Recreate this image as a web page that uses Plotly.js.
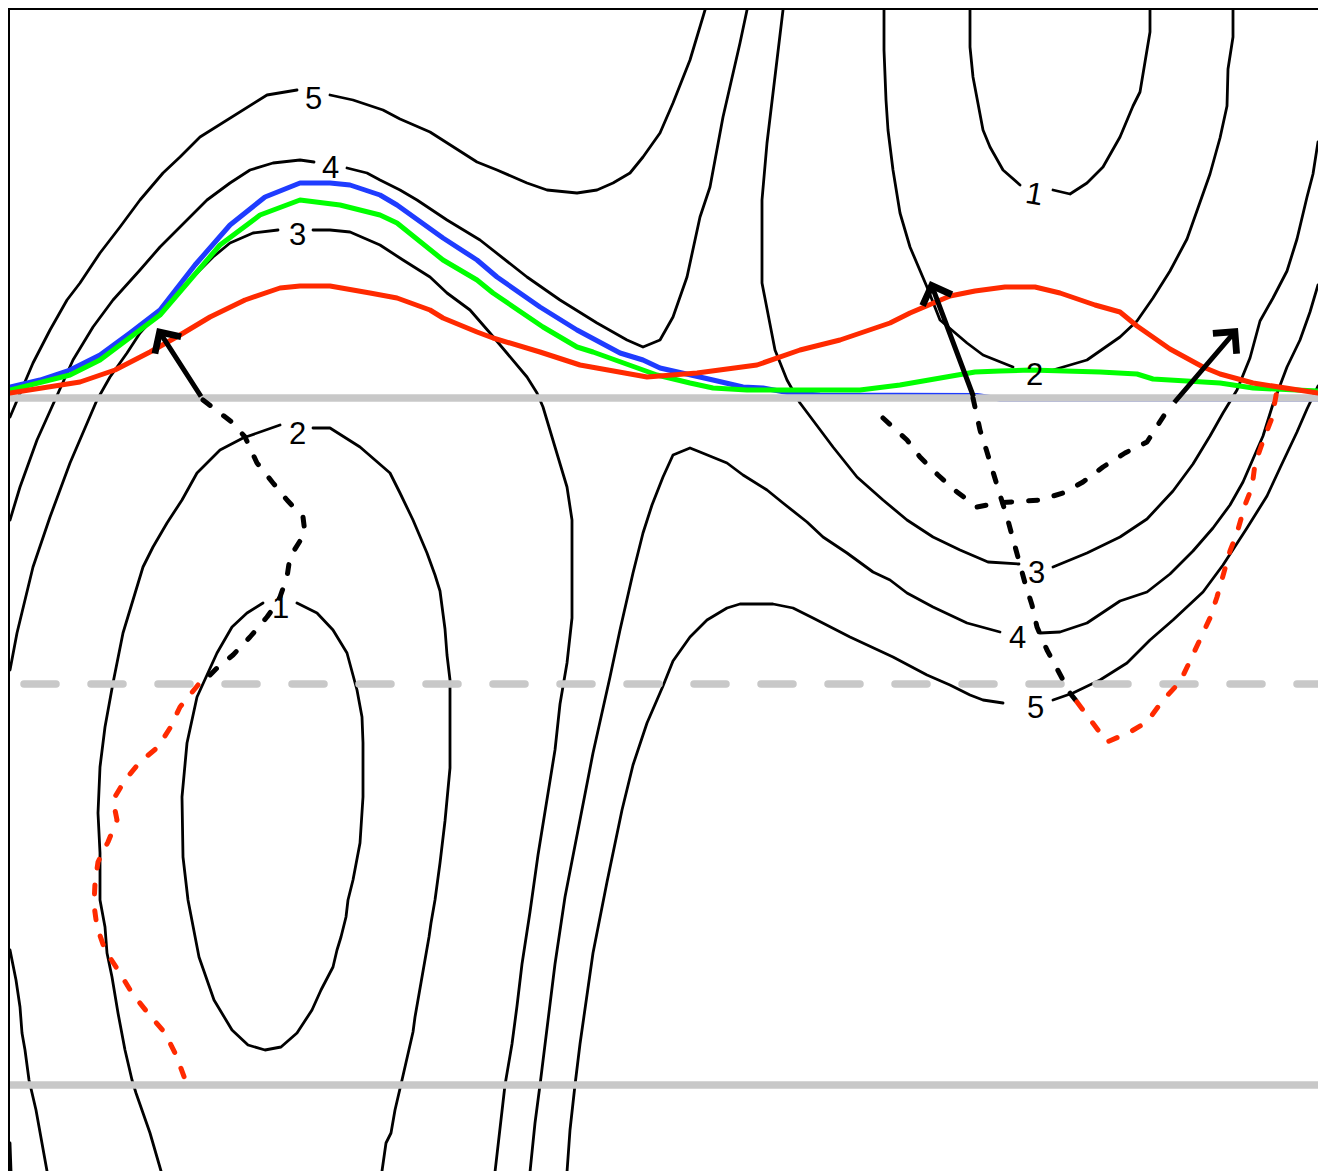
<!DOCTYPE html>
<html>
<head>
<meta charset="utf-8">
<script src="https://cdn.plot.ly/plotly-3.0.1.min.js"></script>
<style>
html,body{margin:0;padding:0;background:#fff;}
#chart{width:1318px;height:1171px;}
.js-line{stroke-linecap:round;stroke-linejoin:round;}
</style>
</head>
<body>
<div id="chart"></div>
<script>
// ---------- contour lines (level 5) ----------
const c5UpperA_x = [10,20,33,50,67,80,100,120,140,163,180,200,227,247,267,297];
const c5UpperA_y = [417,393,363,330,300,283,253,227,200,173,157,137,120,107,95,90];
const c5UpperB_x = [330,353,383,400,430,447,477,497,527,547,577,597,613,630,643,660,673,690,700,705];
const c5UpperB_y = [95,100,110,119,132,143,162,170,183,190,193,190,183,173,157,133,103,60,27,10];
const c5LowerA_x = [567,570,575,580,587,593,607,622,633,647,663,673,690,707,727,740,773,793,813,850,893,927,950,970,983,1003];
const c5LowerA_y = [1172,1130,1085,1044,995,953,882,810,765,723,686,661,637,620,608,604,604,608,618,637,657,675,685,695,700,703];
const c5LowerB_x = [1053,1073,1100,1127,1150,1173,1203,1223,1247,1267,1280,1297,1307,1318];
const c5LowerB_y = [700,693,680,663,640,620,592,565,528,496,468,432,409,386];
// ---------- level 4 ----------
const c4UpperA_x = [10,20,37,55,73,93,113,140,160,187,207,230,250,273,300,314];
const c4UpperA_y = [520,487,440,400,360,327,300,270,247,220,200,183,170,163,160,162];
const c4UpperB_x = [347,367,380,400,417,447,480,527,560,597,627,643,660,673,687,700,710,723,740,747];
const c4UpperB_y = [168,173,180,190,200,220,240,277,300,323,340,347,340,317,277,217,187,117,43,10];
const c4LowerA_x = [530,535,540,550,555,565,577,593,610,620,633,643,652,663,673,690,700,727,743,767,783,807,823,847,873,890,907,933,967,1000];
const c4LowerA_y = [1172,1123,1085,1006,964,897,836,753,677,630,573,533,505,477,455,448,452,463,475,490,503,522,537,553,572,580,593,607,623,632];
const c4LowerB_x = [1040,1060,1087,1120,1147,1170,1193,1213,1230,1243,1253,1263,1273,1287,1300,1310,1318];
const c4LowerB_y = [633,632,623,601,592,574,551,528,505,482,459,436,404,367,340,312,285];
const c4Corner_x = [10,11];
const c4Corner_y = [1143,1171];
// ---------- level 3 ----------
const c3LeftA_x = [10,17,25,33,50,70,97,110,127,140,167,200,213,230,253,278];
const c3LeftA_y = [670,633,600,567,517,463,400,377,353,333,303,270,257,243,233,230];
const c3LeftB_x = [313,330,350,380,403,430,447,470,490,510,527,537,543,555,567,572,572,572,567,560,555,547,538,530,522,517,512,505,500,495];
const c3LeftB_y = [230,230,232,245,260,277,293,310,333,357,377,393,407,447,487,520,580,618,663,704,750,799,855,912,964,1006,1044,1085,1130,1172];
const c3Corner_x = [10,16,20,22,25,29,36,42,47];
const c3Corner_y = [950,980,1007,1033,1050,1080,1110,1143,1171];
const c3RightA_x = [783,777,767,762,762,775,787,800,813,833,857,883,907,933,960,988,1019];
const c3RightA_y = [10,60,143,200,283,350,380,403,420,447,477,500,520,537,550,562,564];
const c3RightB_x = [1053,1087,1120,1147,1173,1193,1210,1223,1237,1250,1260,1273,1287,1297,1307,1313,1318];
const c3RightB_y = [567,553,537,519,491,464,436,413,390,358,321,298,271,239,197,174,142];
// ---------- level 2 ----------
const c2LeftA_x = [280,243,220,197,182,167,153,143,133,123,113,105,100,98,100,100,105,107,112,118,125,132,136,143,150,161];
const c2LeftA_y = [425,438,450,473,500,523,547,567,600,633,683,727,767,813,853,900,927,953,977,1013,1050,1080,1093,1113,1133,1171];
const c2LeftB_x = [313,330,360,390,400,413,427,435,440,445,447,450,450,447,445,440,435,431,429,415,413,402,395,391,386,382];
const c2LeftB_y = [428,428,447,473,493,520,553,575,591,629,655,680,768,799,821,863,900,923,937,1017,1032,1080,1110,1133,1143,1171];
const c2RightA_x = [884,884,886,888,893,900,910,927,940,967,983,1013];
const c2RightA_y = [10,50,100,130,170,213,247,287,320,343,355,367];
const c2RightB_x = [1053,1087,1120,1137,1153,1170,1187,1200,1210,1220,1227,1228,1233,1233];
const c2RightB_y = [370,360,337,321,298,271,239,202,174,138,106,69,37,10];
// ---------- level 1 ----------
const c1Left_x = [263,247,232,217,197,187,182,183,188,199,214,232,248,265,281,297,312,321,333,337,341,346,348,353,360,363,363,362,357,347,333,317,297];
const c1Left_y = [603,613,627,653,697,743,797,857,900,957,1000,1030,1045,1050,1047,1033,1010,990,967,950,937,917,900,880,843,797,743,717,690,653,630,613,603];
const c1RightA_x = [970,970,973,983,990,1003,1020];
const c1RightA_y = [10,47,77,130,147,170,185];
const c1RightB_x = [1053,1070,1087,1103,1120,1133,1140,1145,1150,1150];
const c1RightB_y = [190,194,183,167,137,106,92,64,32,10];

// ---------- contour labels ----------
const labelText  = ['5','4','3','2','1','1','2','3','4','5'];
const labelX     = [313,330,297,297,280,1034,1034,1036,1017,1035];
const labelY     = [98,167,234,433,607,193,374,572,637,707];
const labelAngle = [0,0,0,0,0,10,0,0,0,0];

// ---------- coloured curves ----------
const blueX = [10,40,70,100,130,160,195,230,265,300,330,350,380,397,443,477,497,540,577,620,643,660,713,743,763,790,820,977,1000,1318];
const blueY = [387,380,370,355,333,310,265,225,197,183,183,185,195,205,238,260,277,307,330,353,360,368,380,387,388,393,395,395.5,399,399];
const greenX = [10,40,70,100,130,160,190,220,260,300,340,380,397,443,477,493,543,577,593,620,657,690,713,747,800,860,900,940,975,1000,1030,1100,1137,1153,1187,1220,1253,1287,1318];
const greenY = [390,383,375,360,338,315,280,245,215,200,205,215,223,260,280,293,327,347,352,362,375,383,388,390,390,390,385,378,372,371,370,372,374,379,381,383,388,390,391];
const redX = [10,50,80,115,150,180,210,245,280,300,330,370,397,430,443,477,493,540,580,647,697,757,800,840,870,890,910,930,950,975,1005,1035,1060,1095,1120,1137,1170,1203,1220,1253,1287,1318];
const redY = [393,387,382,370,352,335,317,300,288,286,286,293,298,310,318,332,338,352,365,377,373,365,350,340,330,323,313,305,296,291,287,287,293,305,312,326,349,367,374,383,388,393];

// ---------- reference levels (grey) ----------
const greySolidY = [398,1085];
const greyDashY = 684;

// ---------- dashed paths ----------
const blackPathLX = [203,233,245,257,273,287,303,305,290,287,280,277,267,250,233,217,205,198];
const blackPathLY = [400,423,437,463,483,500,517,533,557,577,597,603,617,637,655,668,680,685];
const redPathLX = [198,180,170,158,140,125,113,117,108,98,95,94,97,105,118,132,147,165,176,186];
const redPathLY = [685,707,728,747,762,780,800,820,842,862,883,905,927,950,970,993,1012,1033,1055,1082];
const blackPathUX = [883,907,920,938,957,977,997,1017,1040,1063,1083,1103,1125,1147,1160,1172];
const blackPathUY = [418,440,457,475,492,507,503,502,500,493,482,467,453,442,422,403];
const blackPathRX = [973,975,980,987,993,1000,1007,1013,1020,1025,1032,1037,1047,1060,1070,1077];
const blackPathRY = [398,408,430,452,473,495,517,540,563,583,605,627,650,673,693,702];
const redPathRX = [1077,1090,1107,1130,1147,1163,1180,1190,1200,1210,1217,1223,1230,1237,1245,1252,1255,1263,1272,1277];
const redPathRY = [702,720,742,732,722,700,682,661,638,618,597,574,551,533,505,487,464,441,418,390];

// ---------- arrows (tail -> tip) ----------
const arrowTailX = [202,974,1173];
const arrowTailY = [398,398,404];
const arrowTipX  = [157,930,1238];
const arrowTipY  = [328,281,328];

// ================= build =================
const BLACK = '#000000', GREY = '#c8c8c8', BLUE = '#1f3cff', GREEN = '#00ff00', RED = '#ff2a00';
function line(x, y, color, width, dash) {
  return {type:'scatter', mode:'lines', x:x, y:y, hoverinfo:'skip', showlegend:false,
          line:{color:color, width:width, dash:dash || 'solid', shape:'linear'}};
}
const contours = [
  [c5UpperA_x,c5UpperA_y],[c5UpperB_x,c5UpperB_y],[c5LowerA_x,c5LowerA_y],[c5LowerB_x,c5LowerB_y],
  [c4UpperA_x,c4UpperA_y],[c4UpperB_x,c4UpperB_y],[c4LowerA_x,c4LowerA_y],[c4LowerB_x,c4LowerB_y],[c4Corner_x,c4Corner_y],
  [c3LeftA_x,c3LeftA_y],[c3LeftB_x,c3LeftB_y],[c3Corner_x,c3Corner_y],[c3RightA_x,c3RightA_y],[c3RightB_x,c3RightB_y],
  [c2LeftA_x,c2LeftA_y],[c2LeftB_x,c2LeftB_y],[c2RightA_x,c2RightA_y],[c2RightB_x,c2RightB_y],
  [c1Left_x,c1Left_y],[c1RightA_x,c1RightA_y],[c1RightB_x,c1RightB_y]
];
const traces = [];
contours.forEach(c => traces.push(line(c[0], c[1], BLACK, 2.8)));
traces.push(line(blueX, blueY, BLUE, 5));
greySolidY.forEach(v => traces.push(line([10,1318],[v,v], GREY, 7.5)));
traces.push(line([24,1318],[greyDashY,greyDashY], GREY, 7.5, '32px,35px'));
traces.push(line(greenX, greenY, GREEN, 5));
traces.push(line(redX, redY, RED, 5));
const DASH = '9px,17px';
traces.push(line(blackPathLX, blackPathLY, BLACK, 5, DASH));
traces.push(line(blackPathUX, blackPathUY, BLACK, 5, DASH));
traces.push(line(blackPathRX, blackPathRY, BLACK, 5, DASH));
traces.push(line(redPathLX, redPathLY, RED, 5, DASH));
traces.push(line(redPathRX, redPathRY, RED, 5, DASH));

const annotations = [];
labelText.forEach((t,i) => annotations.push({
  x:labelX[i], y:labelY[i], xref:'x', yref:'y', text:t, showarrow:false,
  textangle:labelAngle[i], font:{family:'Liberation Sans, Arial, sans-serif', size:31, color:BLACK}
}));
arrowTipX.forEach((_,i) => annotations.push({
  x:arrowTipX[i], y:arrowTipY[i], ax:arrowTailX[i], ay:arrowTailY[i], axref:'x', ayref:'y', xref:'x', yref:'y',
  text:'', showarrow:true, arrowhead:4, arrowsize:1.2, arrowwidth:5, arrowcolor:BLACK, standoff:0, startstandoff:0
}));

const layout = {
  width:1318, height:1171,
  margin:{l:10, r:0, t:10, b:0, pad:0},
  paper_bgcolor:'#ffffff', plot_bgcolor:'#ffffff',
  showlegend:false,
  xaxis:{range:[10,1318], side:'top', showline:true, linecolor:BLACK, linewidth:2.5, showgrid:false,
         zeroline:false, showticklabels:false, ticks:'', fixedrange:true},
  yaxis:{range:[1171,10], showline:true, linecolor:BLACK, linewidth:2.5, showgrid:false,
         zeroline:false, showticklabels:false, ticks:'', fixedrange:true},
  annotations:annotations
};
Plotly.newPlot('chart', traces, layout, {displayModeBar:false, staticPlot:true});
</script>
</body>
</html>
